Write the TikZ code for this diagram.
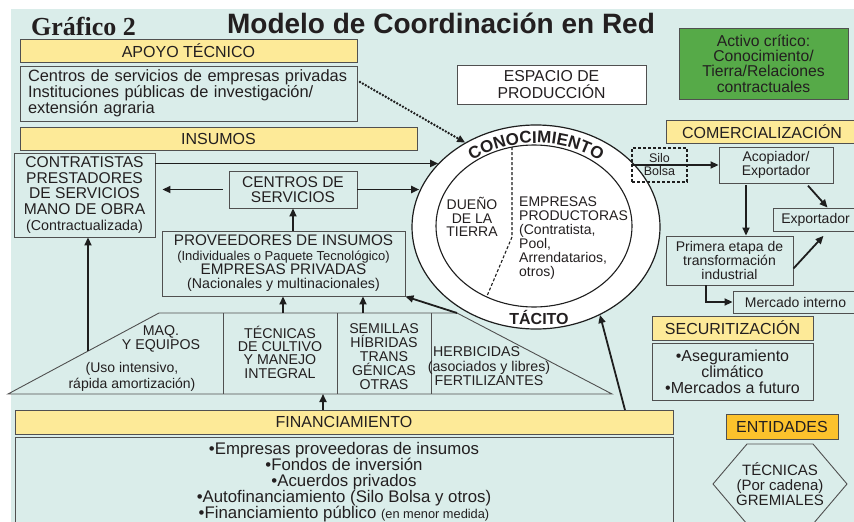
\documentclass[tikz,border=0pt]{standalone}
\usepackage{fontspec}
\setmainfont{Liberation Sans}
\newfontfamily\grafont{Liberation Serif}
\usetikzlibrary{arrows.meta,decorations.text,shapes.geometric}
\definecolor{bgc}{RGB}{218,237,234}
\definecolor{yel}{RGB}{253,234,152}
\definecolor{org}{RGB}{252,194,44}
\definecolor{grn}{RGB}{86,170,72}
\definecolor{bordc}{RGB}{80,80,80}
\definecolor{txt}{RGB}{35,31,32}
\definecolor{arrc}{RGB}{30,30,30}
\newcommand\myfs[2]{\fontsize{#1}{#2}\selectfont}
\newcommand\conofont{\bfseries\fontsize{17}{17}\selectfont}
\begin{document}
\begin{tikzpicture}[x=1pt,y=1pt,
 box/.style={draw=bordc, line width=0.9pt, inner sep=0pt, align=center, text=txt, font=\myfs{15.5}{16}},
 hdr/.style={box, fill=yel, font=\myfs{16}{16}},
 ln/.style={draw=bordc, line width=0.9pt},
 arr/.style={draw=arrc, line width=1.8pt, -{Triangle[length=8pt,width=7pt]}},
 dotarr/.style={draw=arrc, line width=2.7pt, line cap=round, dash pattern=on 0pt off 3.3pt, -{Triangle[length=8pt,width=7pt]}},
 lbl/.style={inner sep=0pt, align=center, text=txt},
]
\useasboundingbox (0,0) rectangle (854,-522);
\fill[white] (0,0) rectangle (854,-522);
\fill[bgc] (11,-9) rectangle (854,-522);

% titles
\node[lbl, anchor=base west, font=\grafont\bfseries\myfs{26}{26}] (graf) at (31,-35) {Gráfico 2};
\node[lbl, anchor=base, font=\bfseries\myfs{28}{28}] (title) at (441,-33) {Modelo de Coordinación en Red};

% apoyo
\node[hdr, minimum width=337pt, minimum height=23pt] (apoyoh) at (188.5,-51) {APOYO TÉCNICO};
\node[box, minimum width=337pt, minimum height=55pt, text width=321pt, align=left, font=\myfs{16.4}{16}] (apoyo) at (188.5,-93.5)
 {Centros de servicios de empresas privadas\\Instituciones públicas de investigación/\\extensión agraria};

% green and espacio
\node[box, fill=grn, minimum width=169pt, minimum height=71pt, font=\myfs{15.7}{15.3}] (green) at (763.5,-63.5)
 {Activo crítico:\\Conocimiento/\\Tierra/Relaciones\\contractuales};
\node[box, fill=white, minimum width=189pt, minimum height=39pt, font=\myfs{15.8}{17}] (espacio) at (551.5,-84.5)
 {ESPACIO DE\\PRODUCCIÓN};

% insumos
\node[hdr, minimum width=397pt, minimum height=23pt] (insh) at (218.5,-138.5) {INSUMOS};
\node[box, minimum width=141pt, minimum height=84pt, font=\myfs{15.6}{15.75}] (contr) at (84.5,-195)
 {CONTRATISTAS\\PRESTADORES\\DE SERVICIOS\\MANO DE OBRA\\{\myfs{14.3}{15.75}(Contractualizada)}};
\node[box, minimum width=128pt, minimum height=37pt, font=\myfs{15.5}{15}] (cent) at (293,-189.5)
 {CENTROS DE\\SERVICIOS};
\node[box, minimum width=243pt, minimum height=65pt, font=\myfs{15.3}{14.3}] (prov) at (283.5,-263.5)
 {PROVEEDORES DE INSUMOS\\{\myfs{13}{14.3}(Individuales o Paquete Tecnológico)}\\EMPRESAS PRIVADAS\\{\myfs{14.2}{14.3}(Nacionales y multinacionales)}};

% circle
\node[ellipse, draw=arrc, line width=1.2pt, fill=white, minimum width=248pt, minimum height=204pt, inner sep=0pt] (outer) at (536,-227) {};
\node[ellipse, draw=arrc, line width=1.1pt, minimum width=196pt, minimum height=162pt, inner sep=0pt] (inner) at (534,-226) {};
\draw[arrc, line width=1.1pt, dash pattern=on 3pt off 2pt] (512,-147) -- (512,-237) -- (487,-296);
\node[lbl, font=\myfs{14}{13.5}] (duenio) at (472,-217) {DUEÑO\\DE LA\\TIERRA};
\node[lbl, anchor=west, align=left, font=\myfs{14}{14}] (emp) at (519,-238)
 {EMPRESAS\\PRODUCTORAS\\(Contratista,\\Pool,\\Arrendatarios,\\otros)};
\path[decorate, decoration={text along path, text={|\conofont|CONOCIMIENTO}, text align=center, text color=txt}]
 (outer.center) ++(160:104 and 84) arc[start angle=160, end angle=20, x radius=104, y radius=84];
\node[lbl, font=\bfseries\myfs{16}{16}] (tacito) at (539,-317) {TÁCITO};

% comercializacion
\node[hdr, minimum width=192pt, minimum height=23pt] (comh) at (762,-131.5) {COMERCIALIZACIÓN};
\node[box, dash pattern=on 3pt off 2pt, draw=arrc, line width=1.3pt, minimum width=55pt, minimum height=34pt, font=\myfs{12.5}{13}] (silo) at (659.5,-165) {Silo\\Bolsa};
\node[box, minimum width=114pt, minimum height=36pt, font=\myfs{14}{13}] (acop) at (776,-165) {Acopiador/\\Exportador};
\node[box, minimum width=85pt, minimum height=23pt, font=\myfs{14}{14}] (expo) at (815.5,-219.5) {Exportador};
\node[box, minimum width=127pt, minimum height=49pt, font=\myfs{14}{14}] (prim) at (729.5,-260.5) {Primera etapa de\\transformación\\industrial};
\node[box, minimum width=125pt, minimum height=22pt, font=\myfs{14}{14}] (merc) at (795.5,-302) {Mercado interno};

% securitizacion
\node[hdr, minimum width=161pt, minimum height=24pt] (sech) at (732.5,-328) {SECURITIZACIÓN};
\node[box, minimum width=161pt, minimum height=57pt, font=\myfs{16}{16}] (sec) at (732.5,-371.5) {•Aseguramiento\\climático\\•Mercados a futuro};

% entidades
\node[box, fill=org, minimum width=112pt, minimum height=25pt, font=\myfs{16}{16}] (enth) at (782,-426.5) {ENTIDADES};
\draw[ln] (713,-484) -- (747,-444) -- (813,-444) -- (847,-484) -- (813,-524) -- (747,-524) -- cycle;
\node[lbl, font=\myfs{15}{15}] (hex) at (780,-484) {TÉCNICAS\\(Por cadena)\\GREMIALES};

% financiamiento
\node[hdr, minimum width=658pt, minimum height=24pt] (finh) at (344,-422) {FINANCIAMIENTO};
\node[box, minimum width=658pt, minimum height=90pt, font=\myfs{16.8}{16}] (fin) at (344,-482)
 {•Empresas proveedoras de insumos\\•Fondos de inversión\\•Acuerdos privados\\•Autofinanciamiento (Silo Bolsa y otros)\\•Financiamiento público {\myfs{12.8}{16}(en menor medida)}};

% trapezoid
\coordinate (tz1) at (8,-394);
\coordinate (tz2) at (159,-313);
\coordinate (tz3) at (457,-313);
\coordinate (tz4) at (612,-394);
\draw[ln] (tz1) -- (tz2) -- (tz3) -- (tz4) -- cycle;
\draw[ln] (223,-313) -- (223,-394);
\draw[ln] (337,-313) -- (337,-394);
\draw[ln] (431,-313) -- (431,-394);
\node[lbl, font=\myfs{14.2}{13.3}] (maq) at (161,-339) {MAQ.\\Y EQUIPOS};
\node[lbl, font=\myfs{14}{15.5}] (uso) at (132,-377) {(Uso intensivo,\\rápida amortización)};
\node[lbl, font=\myfs{14.2}{13.3}] (tec) at (280,-352) {TÉCNICAS\\DE CULTIVO\\Y MANEJO\\INTEGRAL};
\node[lbl, font=\myfs{14.2}{14}] (sem) at (384,-357) {SEMILLAS\\HÍBRIDAS\\TRANS\\GÉNICAS\\OTRAS};
\node[lbl, anchor=west, font=\myfs{14.2}{14}] (herb) at (433,-352) {HERBICIDAS};
\node[lbl, font=\myfs{14.2}{14}] (fert) at (489,-373) {(asociados y libres)\\FERTILIZANTES};

% connector points
\coordinate (tzA) at (88,-351);
\coordinate (tzB) at (283,-313);
\coordinate (tzC) at (363,-313);
\coordinate (tzD) at (323,-394);
\coordinate (fa) at (625,-410);
\coordinate (dA) at (360,-82);

% arrows
\draw[arr] (contr.east |- outer.147) -- (outer.147);
\draw[arr, shorten <=6pt, shorten >=7pt] (cent.west) -- (cent.west -| contr.east);
\draw[arr] (cent.east) -- (cent.east -| outer.163);
\draw[arr] (cent.south |- prov.north) -- (cent.south);
\draw[arr] (tzA) -- (tzA |- contr.south);
\draw[arr] (tzB) -- (tzB |- prov.south);
\draw[arr] (tzC) -- (tzC |- prov.south);
\draw[arr] (tz3) -- (prov.south east);
\draw[arr] (tzD |- finh.north) -- (tzD);
\draw[arr] (fa) -- (outer.306);
\draw[dotarr] (dA) -- (outer.130);
\draw[arr] (silo.west) -- (acop.west);
\draw[arr, shorten <=2pt] ([xshift=-30pt]acop.south) -- ([xshift=-30pt]acop.south |- prim.north);
\draw[arr, shorten <=3pt] ([xshift=30pt]acop.south) -- ([xshift=12pt]expo.north);
\draw[arr, shorten >=6pt] ([yshift=-8pt]prim.east) -- ([xshift=12pt]expo.south);
\draw[arr] ([xshift=-23.5pt]prim.south) |- (merc.west);
\end{tikzpicture}
\end{document}
